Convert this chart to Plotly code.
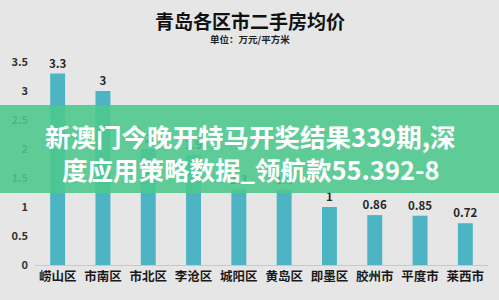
import plotly.graph_objects as go

districts = ["崂山区", "市南区", "市北区", "李沧区", "城阳区", "黄岛区", "即墨区", "胶州市", "平度市", "莱西市"]
prices = [3.3, 3, 2, 1.9, 1.3, 1.3, 1, 0.86, 0.85, 0.72]
price_labels = ["3.3", "3", "2", "1.9", "1.3", "1.3", "1", "0.86", "0.85", "0.72"]
y_ticks = [0, 0.5, 1, 1.5, 2, 2.5, 3, 3.5]
y_tick_labels = ["0", "0.5", "1", "1.5", "2", "2.5", "3", "3.5"]

title_text = "青岛各区市二手房均价"
subtitle_text = "单位：万元/平方米"
banner_line1 = "新澳门今晚开特马开奖结果339期,深"
banner_line2 = "度应用策略数据_领航款55.392-8"

FONT = "Noto Sans CJK SC"
PH = 203.0  # plot height in px (for paper coordinate conversion)


def py(pix):
    return (265 - pix) / PH


fig = go.Figure()
fig.add_trace(go.Bar(
    x=districts,
    y=prices,
    text=price_labels,
    textposition="outside",
    constraintext="none",
    textfont=dict(family=FONT, size=11.5, color="#262626", weight="bold"),
    marker=dict(color="#4db4c4", line=dict(width=0)),
    cliponaxis=False,
    hoverinfo="skip",
))

fig.update_layout(
    width=499, height=300,
    margin=dict(l=33, r=11, t=62, b=35),
    paper_bgcolor="#e6e6e6",
    plot_bgcolor="#e6e6e6",
    bargap=0.67,
    showlegend=False,
    font=dict(family=FONT),
)
fig.update_xaxes(
    showline=True, linecolor="#c8c8c8", linewidth=1,
    showgrid=False, ticks="",
    tickfont=dict(family=FONT, size=12.5, color="#1a1a1a", weight="bold"),
)
fig.update_yaxes(
    range=[0, 3.5], tickvals=y_ticks, ticktext=y_tick_labels,
    showgrid=False, zeroline=False, showline=False, ticks="",
    ticklabelstandoff=6,
    tickfont=dict(family=FONT, size=11, color="#333333", weight="bold"),
)

# title and subtitle
fig.add_annotation(text=title_text, xref="paper", yref="paper", x=0.475, y=py(21),
                   yanchor="middle", showarrow=False,
                   font=dict(family=FONT, size=19, color="#111111", weight="bold"))
fig.add_annotation(text=subtitle_text, xref="paper", yref="paper", x=0.475, y=py(38.5),
                   yanchor="middle", showarrow=False,
                   font=dict(family=FONT, size=9.5, color="#222222", weight="bold"))

# green overlay banner
fig.add_shape(type="rect", xref="paper", yref="paper",
              x0=-0.1, x1=1.05, y0=py(193), y1=py(105),
              fillcolor="rgba(76,200,140,0.88)", line=dict(width=0), layer="above")
fig.add_annotation(text=banner_line1, xref="paper", yref="paper", x=0.475, y=py(135),
                   yanchor="middle", showarrow=False,
                   font=dict(family=FONT, size=25.5, color="white", weight="bold"))
fig.add_annotation(text=banner_line2, xref="paper", yref="paper", x=0.475, y=py(168),
                   yanchor="middle", showarrow=False,
                   font=dict(family=FONT, size=25.5, color="white", weight="bold"))

fig.write_html("out.html")
